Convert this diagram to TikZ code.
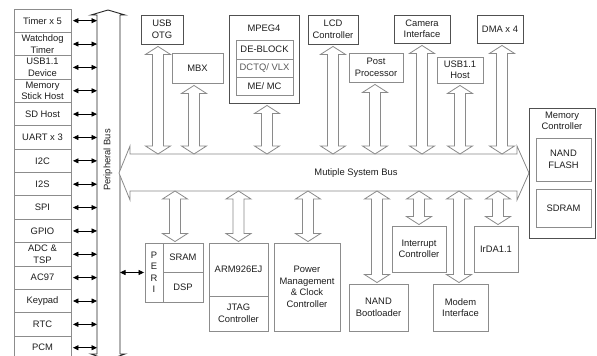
\documentclass[tikz,border=0pt]{standalone}
\usepackage{fontspec}
\setmainfont{Liberation Sans}
\usetikzlibrary{arrows.meta,calc}
\definecolor{boxdark}{HTML}{505050}
\definecolor{boxlight}{HTML}{8C8C8C}
\definecolor{busgray}{HTML}{8A8A8A}
\definecolor{txt}{HTML}{1E1E1E}
\tikzset{
  txtfont/.style={font=\fontsize{9.4}{11.5}\selectfont, text=txt},
  dbox/.style={draw=boxdark, line width=0.9pt, align=center, inner sep=0pt, txtfont},
  lbox/.style={draw=boxlight, line width=0.9pt, align=center, inner sep=0pt, txtfont},
  fatarrow/.style={draw=busgray, line width=0.8pt, fill=white, line join=miter},
  busshape/.style={draw=busgray, line width=0.8pt, fill=white},
  pbus/.style={draw=black!85, line width=0.9pt},
  blkarrow/.style={line width=0.8pt, {Triangle[length=5.5pt,width=5pt]}-{Triangle[length=5.5pt,width=5pt]}},
}
\newcommand\vdarr[3]{%
  \draw[fatarrow] let \p1=(#1), \p2=(#2), \p3=(#3) in
   (\x1,\y2) -- (\x1+12.5pt,\y2-8pt) -- (\x1+5.5pt,\y2-8pt) -- (\x1+5.5pt,\y3+8pt)
   -- (\x1+12.5pt,\y3+8pt) -- (\x1,\y3) -- (\x1-12.5pt,\y3+8pt) -- (\x1-5.5pt,\y3+8pt)
   -- (\x1-5.5pt,\y2-8pt) -- (\x1-12.5pt,\y2-8pt) -- cycle;}
\begin{document}
\begin{tikzpicture}[x=1pt,y=-1pt]
\useasboundingbox (0,0) rectangle (597,356);
\fill[white] (0,0) rectangle (597,356);

% coordinates of buses
\coordinate (pbL) at (97,0);
\coordinate (pbR) at (120,0);
\coordinate (busT) at (0,154);
\coordinate (busB) at (0,191);

% peripheral bus
\draw[pbus] (97,354) -- (97,15) -- (91,15) -- (108,10) -- (125,15) -- (120,15) -- (120,354);
\draw[pbus] (97,354) -- (91,354) -- (108,360) -- (125,354) -- (120,354);
\node[txtfont, rotate=90] (pblabel) at (108,160) {Peripheral Bus};

% left column
\foreach \t [count=\i] in {Timer x 5,{Watchdog\\Timer},{USB1.1\\Device},{Memory\\Stick Host},SD Host,UART x 3,I2C,I2S,SPI,GPIO,{ADC \&\\TSP},AC97,Keypad,RTC,PCM}{
  \node[lbox, minimum width=57pt, minimum height=23.36pt] (l\i) at (42.5,{9+23.36*(\i-0.5)}) {\t};
  \draw[blkarrow] ([xshift=1.5pt]l\i.east) -- (pbL |- l\i.east);
}

% system bus
\draw[busshape] (119,173) -- (130,146) -- (130,154) -- (517,154) -- (517,146) -- (529,173)
  -- (517,200) -- (517,191) -- (130,191) -- (130,200) -- cycle;
\node[txtfont] (sysbus) at (356,173) {Mutiple System Bus};

% top boxes
\node[dbox, minimum width=42pt, minimum height=29pt] (usb) at (162,29.5) {USB\\OTG};
\node[lbox, minimum width=51pt, minimum height=30pt] (mbx) at (197.5,68) {MBX};
\node[dbox, minimum width=70pt, minimum height=88pt] (mpeg) at (264,59) {};
\node[txtfont] (mpeglbl) at (264,28) {MPEG4};
\node[lbox, minimum width=57pt, minimum height=19pt] (deb) at (264.5,49.5) {DE-BLOCK};
\node[lbox, minimum width=57pt, minimum height=18pt, text=black!65] (dctq) at (264.5,68) {DCTQ/ VLX};
\node[lbox, minimum width=57pt, minimum height=18pt] (me) at (264.5,86) {ME/ MC};
\node[dbox, minimum width=50pt, minimum height=29pt] (lcd) at (333,29.5) {LCD\\Controller};
\node[lbox, minimum width=54pt, minimum height=29pt] (post) at (376,67.5) {Post\\Processor};
\node[dbox, minimum width=56pt, minimum height=28pt] (cam) at (422,29) {Camera\\Interface};
\node[lbox, minimum width=46pt, minimum height=26pt] (usbh) at (460,70) {USB1.1\\Host};
\node[dbox, minimum width=46pt, minimum height=28pt] (dma) at (500,29) {DMA x 4};

% memory controller
\node[dbox, minimum width=66pt, minimum height=130pt] (memctl) at (562,173) {};
\node[txtfont, align=center] (memlbl) at (562,121) {Memory\\Controller};
\node[lbox, minimum width=55pt, minimum height=43pt] (nandf) at (563.5,159.5) {NAND\\FLASH};
\node[lbox, minimum width=55pt, minimum height=38pt] (sdram) at (563.5,208) {SDRAM};

% bottom boxes
\node[lbox, minimum width=18pt, minimum height=59pt] (peri) at (154,272.5) {P\\E\\R\\I};
\node[lbox, minimum width=40pt, minimum height=29pt] (sram) at (183,257.5) {SRAM};
\node[lbox, minimum width=40pt, minimum height=30pt] (dsp) at (183,287) {DSP};
\node[lbox, minimum width=59pt, minimum height=53pt] (arm) at (238.5,269.5) {ARM926EJ};
\node[lbox, minimum width=59pt, minimum height=35pt] (jtag) at (238.5,313.5) {JTAG\\Controller};
\node[lbox, minimum width=66pt, minimum height=88pt] (pwr) at (307,287) {Power\\Management\\\& Clock\\Controller};
\node[lbox, minimum width=59pt, minimum height=47pt] (nandb) at (378.5,307.5) {NAND\\Bootloader};
\node[lbox, minimum width=54pt, minimum height=46pt] (intr) at (419,249) {Interrupt\\Controller};
\node[lbox, minimum width=55pt, minimum height=47pt] (modem) at (460.5,307.5) {Modem\\Interface};
\node[lbox, minimum width=44pt, minimum height=46pt] (irda) at (496,249) {IrDA1.1};

\draw[blkarrow] (pbR |- peri.west) -- ([xshift=-0.5pt]peri.west);

% top fat arrows
\vdarr{[xshift=-4pt]usb.south}{[yshift=-2pt]usb.south}{busT}
\vdarr{[xshift=-3.5pt]mbx.south}{[yshift=-2pt]mbx.south}{busT}
\vdarr{[xshift=3pt]mpeg.south}{[yshift=-2pt]mpeg.south}{busT}
\vdarr{lcd.south}{[yshift=-2pt]lcd.south}{busT}
\vdarr{[xshift=-1pt]post.south}{[yshift=-2pt]post.south}{busT}
\vdarr{cam.south}{[yshift=-2pt]cam.south}{busT}
\vdarr{usbh.south}{[yshift=-2pt]usbh.south}{busT}
\vdarr{[xshift=2pt]dma.south}{[yshift=-2pt]dma.south}{busT}

% bottom fat arrows
\vdarr{[xshift=-8pt]sram.north}{busB}{[yshift=1pt]sram.north}
\vdarr{arm.north}{busB}{[yshift=1pt]arm.north}
\vdarr{[xshift=1pt]pwr.north}{busB}{[yshift=1pt]pwr.north}
\vdarr{[xshift=-1.5pt]nandb.north}{busB}{[yshift=1pt]nandb.north}
\vdarr{intr.north}{busB}{[yshift=1pt]intr.north}
\vdarr{[xshift=-1.5pt]modem.north}{busB}{[yshift=1pt]modem.north}
\vdarr{[xshift=2pt]irda.north}{busB}{[yshift=1pt]irda.north}
\end{tikzpicture}
\end{document}
